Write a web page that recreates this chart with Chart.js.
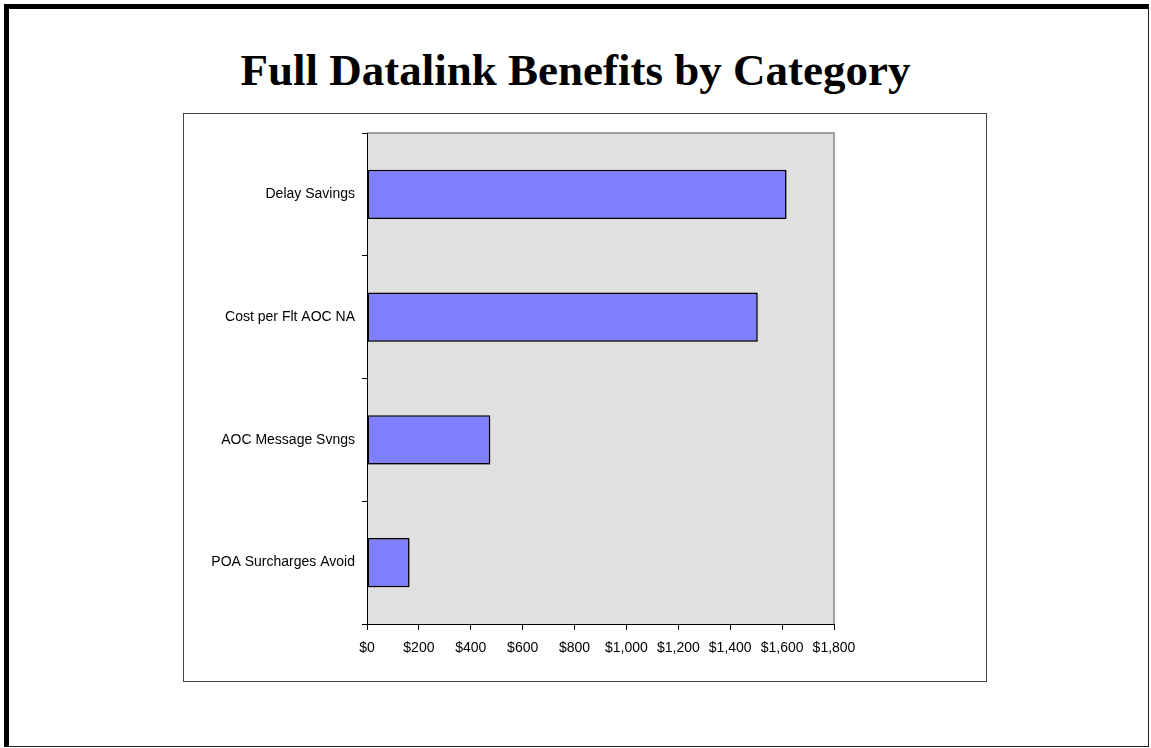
<!DOCTYPE html>
<html>
<head>
<meta charset="utf-8">
<script src="https://cdn.jsdelivr.net/npm/chart.js@4"></script>
<style>
  html, body { margin: 0; padding: 0; background: #ffffff; }
  body { width: 1151px; height: 748px; position: relative; overflow: hidden; }
  #frame {
    position: absolute; left: 4px; top: 4px; width: 1139px; height: 737px;
    border-top: 5px solid #000; border-left: 5px solid #000;
    border-right: 1px solid #222; border-bottom: 1px solid #222;
  }
  #title {
    position: absolute; left: 0; top: 45px; width: 1151px; text-align: center;
    font-family: "Liberation Serif", "Times New Roman", serif; font-weight: bold;
    font-size: 45px; line-height: 50px; color: #000;
  }
  #box {
    position: absolute; left: 183px; top: 113px; width: 802px; height: 567px;
    border: 1px solid #444;
  }
  #wrap { position: absolute; left: 0; top: 0; width: 1151px; height: 748px; }
</style>
</head>
<body>
<div id="frame"></div>
<div id="title">Full Datalink Benefits by Category</div>
<div id="box"></div>
<div id="wrap"><canvas id="chart" width="1151" height="748"></canvas></div>
<script>
// Benefit categories (top to bottom) and their dollar values
const categories = ["Delay Savings", "Cost per Flt AOC NA", "AOC Message Svngs", "POA Surcharges Avoid"];
const benefitValues = [1617, 1506, 475, 164];
const xTickValues = [0, 200, 400, 600, 800, 1000, 1200, 1400, 1600, 1800];

// Grey plot background with grey top/right edges
const plotArea = {
  id: "plotArea",
  beforeDraw(chart) {
    const { ctx, chartArea: a } = chart;
    ctx.save();
    ctx.fillStyle = "#e0e0e0";
    ctx.fillRect(a.left, a.top, a.right - a.left, a.bottom - a.top);
    ctx.strokeStyle = "#a0a0a0";
    ctx.lineWidth = 2;
    ctx.beginPath();
    ctx.moveTo(a.left, a.top);
    ctx.lineTo(a.right, a.top);
    ctx.lineTo(a.right, a.bottom);
    ctx.stroke();
    ctx.restore();
  },
  // soft drop shadow under the bars
  beforeDatasetsDraw(chart) {
    const ctx = chart.ctx;
    ctx.save();
    ctx.shadowColor = "rgba(0,0,0,0.35)";
    ctx.shadowOffsetX = 1;
    ctx.shadowOffsetY = 1;
    ctx.shadowBlur = 1;
  },
  afterDatasetsDraw(chart) {
    chart.ctx.restore();
  }
};

const fmt = v => "$" + v.toLocaleString("en-US");

new Chart(document.getElementById("chart"), {
  type: "bar",
  data: {
    labels: categories,
    datasets: [{
      data: benefitValues,
      backgroundColor: "#8080ff",
      borderColor: "#000000",
      borderWidth: 1.5,
      borderSkipped: false,
      barPercentage: 0.4,
      categoryPercentage: 1.0
    }]
  },
  options: {
    indexAxis: "y",
    responsive: false,
    animation: false,
    layout: { padding: { left: 187, top: 133, right: 317, bottom: 84 } },
    plugins: { legend: { display: false }, tooltip: { enabled: false }, title: { display: false } },
    scales: {
      x: {
        type: "linear",
        min: 0, max: 1800,
        afterBuildTicks(scale) { scale.ticks = xTickValues.map(v => ({ value: v })); },
        afterFit(scale) { scale.height = 40; },
        grid: { drawOnChartArea: false, drawTicks: true, tickLength: 6, color: "#000" },
        border: { display: true, color: "#000", width: 1 },
        ticks: {
          color: "#000", padding: 10, maxRotation: 0, autoSkip: false,
          font: { family: "'Liberation Sans', Arial, sans-serif", size: 14 },
          callback: v => fmt(v)
        }
      },
      y: {
        type: "category",
        offset: true,
        afterFit(scale) { scale.width = 180; },
        grid: { offset: true, drawOnChartArea: false, drawTicks: true, tickLength: 5, color: "#000" },
        border: { display: true, color: "#000", width: 1 },
        ticks: {
          color: "#000", padding: 7,
          font: { family: "'Liberation Sans', Arial, sans-serif", size: 14 }
        }
      }
    }
  },
  plugins: [plotArea]
});
</script>
</body>
</html>
